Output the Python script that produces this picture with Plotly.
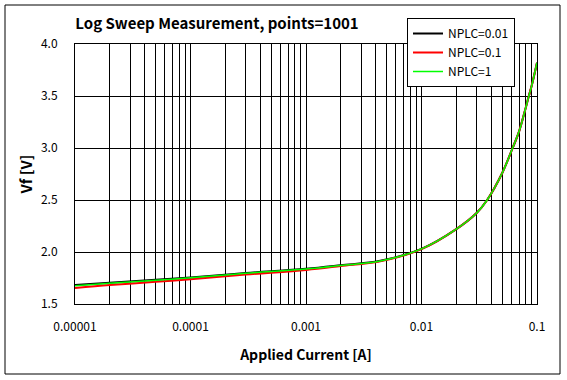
import plotly.graph_objects as go

# Applied current [A]
current = [1e-5, 2e-5, 5e-5, 1e-4, 3e-4, 1e-3, 2e-3, 4.4e-3, 1e-2, 0.02, 0.03, 0.037,
           0.05, 0.0615, 0.07, 0.08, 0.085, 0.09, 0.1]
# Vf [V] for each NPLC setting
vf_nplc_001 = [1.683, 1.705, 1.732, 1.755, 1.797, 1.838, 1.872, 1.915, 2.03, 2.22, 2.375, 2.50,
               2.76, 3.00, 3.16, 3.39, 3.50, 3.60, 3.82]
vf_nplc_01 = [1.655, 1.683, 1.713, 1.737, 1.783, 1.828, 1.865, 1.910, 2.028, 2.22, 2.375, 2.50,
              2.76, 3.00, 3.16, 3.39, 3.50, 3.60, 3.82]
vf_nplc_1 = [1.675, 1.700, 1.728, 1.753, 1.795, 1.836, 1.870, 1.913, 2.03, 2.22, 2.375, 2.50,
             2.76, 3.00, 3.16, 3.39, 3.50, 3.60, 3.82]

series_names = ["NPLC=0.01", "NPLC=0.1", "NPLC=1"]
x_tickvals = [1e-5, 1e-4, 1e-3, 1e-2, 1e-1]
x_ticktext = ["0.00001", "0.0001", "0.001", "0.01", "0.1"]

FONT = "Noto Sans CJK KR, Noto Sans, sans-serif"

fig = go.Figure()
fig.add_trace(go.Scatter(x=current, y=vf_nplc_001, name=series_names[0], mode="lines",
                         line=dict(color="black", width=2, shape="spline")))
fig.add_trace(go.Scatter(x=current, y=vf_nplc_01, name=series_names[1], mode="lines",
                         line=dict(color="#ff0000", width=2, shape="spline")))
fig.add_trace(go.Scatter(x=current, y=vf_nplc_1, name=series_names[2], mode="lines",
                         line=dict(color="#00ff00", width=1.5, shape="spline")))

L, R, T, B = 75, 30, 44, 76
W, H = 567, 380
pw, ph = W - L - R, H - T - B

def px_to_paper_x(px):
    return (px - L) / pw

def px_to_paper_y(py):
    return (H - B - py) / ph

fig.update_layout(
    width=W, height=H,
    margin=dict(l=L, r=R, t=T, b=B, autoexpand=False),
    paper_bgcolor="white", plot_bgcolor="white",
    font=dict(family=FONT, size=12, color="black"),
    title=dict(text="<b>Log Sweep Measurement, points=1001</b>",
               font=dict(size=15, family=FONT, color="black"),
               x=217 / W, xanchor="center", y=1 - 24 / H, yanchor="middle"),
    showlegend=True,
    legend=dict(x=px_to_paper_x(407), y=px_to_paper_y(18), xanchor="left", yanchor="top",
                bgcolor="white", bordercolor="black", borderwidth=1,
                font=dict(size=12, family=FONT), tracegroupgap=0,
                itemwidth=30),
    xaxis=dict(type="log", range=[-5, -1], tickvals=x_tickvals, ticktext=x_ticktext,
               showgrid=True, gridcolor="black", gridwidth=1,
               minor=dict(dtick="D1", showgrid=True, gridcolor="black", gridwidth=1, ticks=""),
               showline=True, linecolor="black", linewidth=1, mirror=True,
               ticks="", zeroline=False, ticklabelstandoff=12,
               tickfont=dict(size=12, family=FONT),
               title=dict(text="<b>Applied Current [A]</b>", font=dict(size=14, family=FONT),
                          standoff=16)),
    yaxis=dict(range=[1.5, 4.0], dtick=0.5, tick0=1.5, tickformat=".1f",
               showgrid=True, gridcolor="black", gridwidth=1,
               showline=True, linecolor="black", linewidth=1, mirror=True,
               ticks="", zeroline=False, ticklabelstandoff=14,
               tickfont=dict(size=12, family=FONT),
               title=dict(text="<b>Vf [V]</b>", font=dict(size=15, family=FONT),
                          standoff=4)),
)

# outer chart border
fig.add_shape(type="rect", xref="paper", yref="paper",
              x0=px_to_paper_x(5), x1=px_to_paper_x(560),
              y0=px_to_paper_y(374), y1=px_to_paper_y(5),
              line=dict(color="black", width=1), fillcolor="rgba(0,0,0,0)", layer="below")

fig.write_html("out.html", config={"displayModeBar": False},
               post_script="document.body.style.margin='0';document.body.style.overflow='hidden';")
